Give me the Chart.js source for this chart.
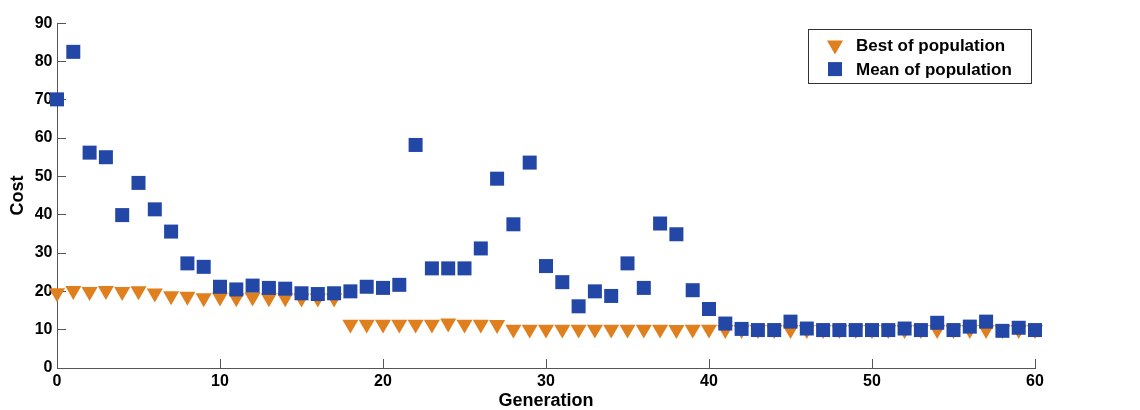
<!DOCTYPE html>
<html>
<head>
<meta charset="utf-8">
<script src="https://cdn.jsdelivr.net/npm/chart.js@4/dist/chart.umd.min.js"></script>
<style>
  html, body { margin: 0; padding: 0; background: #ffffff; }
  #wrap { width: 1140px; height: 410px; position: relative; }
</style>
</head>
<body>
<div id="wrap"><canvas id="c" width="1140" height="410"></canvas></div>
<script>
// ---- data ----
const generations = [0,1,2,3,4,5,6,7,8,9,10,11,12,13,14,15,16,17,18,19,20,21,22,23,24,25,26,27,28,29,30,31,32,33,34,35,36,37,38,39,40,41,42,43,44,45,46,47,48,49,50,51,52,53,54,55,56,57,58,59,60];
const bestCost = [19.6,20.2,19.9,20.2,19.9,20.1,19.5,18.8,18.7,18.3,18.5,18.3,18.5,18.3,18.3,18.2,18.2,18.2,11.4,11.4,11.4,11.4,11.4,11.4,11.7,11.4,11.4,11.3,10.1,10.1,10.1,10.1,10.1,10.1,10.1,10.1,10.1,10.1,10.0,10.1,10.1,10.0,10.0,10.0,10.0,10.0,10.0,10.0,10.0,10.0,10.0,10.0,10.0,10.0,10.0,10.0,10.0,10.0,10.0,10.0,10.0];
const meanCost = [70.1,82.5,56.2,55.0,39.9,48.3,41.4,35.6,27.3,26.4,21.2,20.5,21.5,20.9,20.7,19.5,19.3,19.5,20.0,21.2,20.9,21.7,58.2,26.0,26.0,26.0,31.2,49.4,37.5,53.6,26.6,22.4,16.1,20.0,18.8,27.3,20.9,37.7,34.9,20.3,15.4,11.6,10.2,9.9,9.9,12.1,10.3,9.9,9.9,9.9,9.9,9.9,10.3,9.9,11.8,9.9,10.8,12.1,9.7,10.5,9.9];
const xTicks = [0,10,20,30,40,50,60];
const yTicks = [0,10,20,30,40,50,60,70,80,90];
const seriesNames = ['Best of population', 'Mean of population'];
const xTitle = 'Generation';
const yTitle = 'Cost';

const ORANGE = '#E07F1E';
const BLUE = '#2347A6';
const AXIS = '#555555';
const FONT = "'Liberation Sans', Arial, Helvetica, sans-serif";

Chart.defaults.font.family = FONT;
Chart.defaults.color = '#000000';

const toPts = (ys) => ys.map((v, i) => ({ x: generations[i], y: v }));

const legendBox = {
  id: 'legendBox',
  afterDraw(chart) {
    const { ctx, chartArea } = chart;
    const left = chartArea.right - 227, top = chartArea.top + 6, w = 223, h = 54;
    ctx.save();
    ctx.fillStyle = '#ffffff';
    ctx.fillRect(left, top, w, h);
    ctx.strokeStyle = '#333333';
    ctx.lineWidth = 1;
    ctx.strokeRect(Math.round(left) + 0.5, Math.round(top) + 0.5, w, h);
    const rows = [top + 16, top + 40];
    chart.data.datasets.forEach((ds, i) => {
      ctx.fillStyle = ds.backgroundColor;
      ctx.strokeStyle = ds.backgroundColor;
      Chart.helpers.drawPoint(ctx, {
        pointStyle: ds.pointStyle,
        radius: ds.pointRadius,
        rotation: ds.rotation || 0,
        borderWidth: 0
      }, left + 27, rows[i]);
      ctx.fillStyle = '#000000';
      ctx.font = 'bold 17px ' + FONT;
      ctx.textAlign = 'left';
      ctx.textBaseline = 'middle';
      ctx.fillText(ds.label, left + 48, rows[i] + 1);
    });
    ctx.restore();
  }
};

new Chart(document.getElementById('c'), {
  type: 'scatter',
  data: {
    datasets: [
      {
        label: seriesNames[0],
        data: toPts(bestCost),
        pointStyle: 'triangle',
        rotation: 180,
        pointRadius: 9.3,
        pointBorderWidth: 0,
        borderWidth: 0,
        backgroundColor: ORANGE,
        borderColor: ORANGE,
        clip: false,
        order: 2
      },
      {
        label: seriesNames[1],
        data: toPts(meanCost),
        pointStyle: 'rect',
        pointRadius: 9.9,
        pointBorderWidth: 0,
        borderWidth: 0,
        backgroundColor: BLUE,
        borderColor: BLUE,
        clip: false,
        order: 1
      }
    ]
  },
  options: {
    responsive: false,
    animation: false,
    events: [],
    layout: { padding: { top: 23, right: 105, left: 0, bottom: 0 } },
    plugins: {
      legend: { display: false },
      tooltip: { enabled: false }
    },
    scales: {
      x: {
        type: 'linear',
        min: 0, max: 60,
        afterBuildTicks: (s) => { s.ticks = xTicks.map(v => ({ value: v })); },
        afterFit: (s) => { s.height = 42; },
        border: { display: true, color: AXIS, width: 1 },
        grid: { drawOnChartArea: false, drawTicks: true, tickLength: -9, color: AXIS },
        ticks: { padding: 13, color: '#000', font: { size: 16, weight: 'bold' } },
        title: { display: true, text: xTitle, color: '#000', font: { size: 18, weight: 'bold', lineHeight: 1 }, padding: { top: 0, bottom: 0 } }
      },
      y: {
        type: 'linear',
        min: 0, max: 90,
        afterBuildTicks: (s) => { s.ticks = yTicks.map(v => ({ value: v })); },
        afterFit: (s) => { s.width = 57; },
        border: { display: true, color: AXIS, width: 1 },
        grid: { drawOnChartArea: false, drawTicks: true, tickLength: -9, color: AXIS },
        ticks: { padding: 13.5, color: '#000', font: { size: 16, weight: 'bold' } },
        title: { display: true, text: yTitle, color: '#000', font: { size: 18, weight: 'bold', lineHeight: 1 }, padding: { top: 9.5, bottom: 0 } }
      }
    }
  },
  plugins: [legendBox]
});
</script>
</body>
</html>
